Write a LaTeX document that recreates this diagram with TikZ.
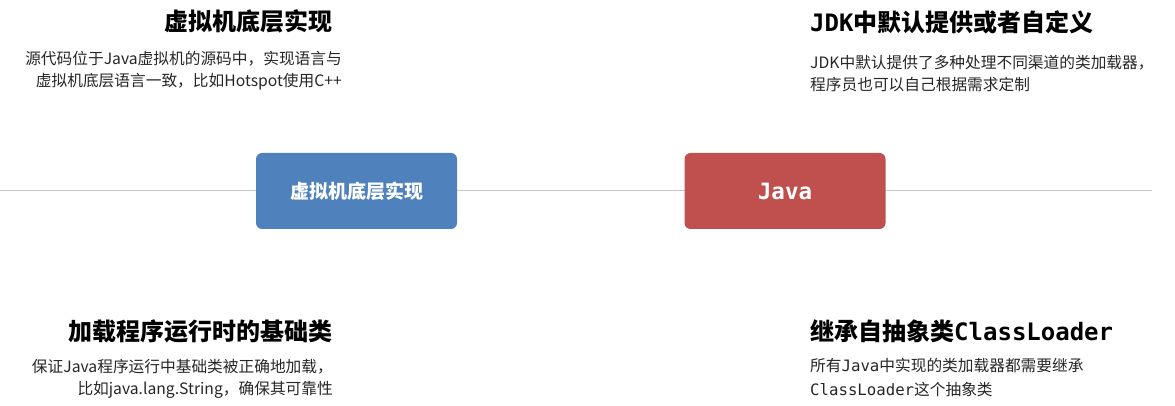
\documentclass[tikz,border=0pt]{standalone}
\usepackage{fontspec}
\setmainfont{Noto Sans CJK SC}
\setmonofont{DejaVu Sans Mono}
\usetikzlibrary{positioning}
\definecolor{boxblue}{HTML}{4F81BD}
\definecolor{boxred}{HTML}{C0504D}
\definecolor{axisgray}{HTML}{C8C8C8}
\definecolor{notetext}{HTML}{262626}

\begin{document}
\begin{tikzpicture}[
    x=1pt, y=-1pt,
    stagebox/.style={
        draw=none,
        rounded corners=6pt,
        minimum width=201pt,
        minimum height=76pt,
        inner sep=0pt,
        text=white,
        font=\bfseries\fontsize{19}{22}\selectfont
    },
    headline/.style={inner sep=0pt, font=\bfseries\fontsize{24}{28}\selectfont},
    remark/.style={inner sep=0pt, text=notetext, font=\fontsize{15.7}{22}\selectfont}
]
\useasboundingbox (0,0) rectangle (1175,406);

% timeline behind the two boxes
\coordinate (lineL) at (0,191);
\coordinate (lineR) at (1152,191);
\draw[axisgray, line width=1pt] (lineL) -- (lineR);

% the two stages
\node[stagebox, fill=boxblue] (vmbox) at (356.5,191) {虚拟机底层实现};
\node[stagebox, fill=boxred, font=\ttfamily\bfseries\fontsize{22.5}{24}\selectfont] (javabox) at (785,191) {Java};

% left column: right aligned
\node[headline, anchor=base east] (vmtitle) at (333,31) {虚拟机底层实现};
\node[remark, anchor=north east, align=right] (vmnote) at (342,51)
    {源代码位于Java虚拟机的源码中，实现语言与\\虚拟机底层语言一致，比如Hotspot使用C++};

\node[headline, anchor=base east] (basetitle) at (333,340) {加载程序运行时的基础类};
\node[remark, anchor=north east, align=right] (basenote) at (333,359)
    {保证Java程序运行中基础类被正确地加载，\\比如java.lang.String，确保其可靠性};

% right column: left aligned
\node[headline, anchor=base west] (jdktitle) at (810,32) {\texttt{JDK}中默认提供或者自定义};
\node[remark, anchor=north west, align=left] (jdknote) at (810,55)
    {JDK中默认提供了多种处理不同渠道的类加载器，\\程序员也可以自己根据需求定制};

\node[headline, anchor=base west] (cltitle) at (810,340) {继承自抽象类\texttt{ClassLoader}};
\node[remark, anchor=north west, align=left, font=\fontsize{15.7}{24}\selectfont] (clnote) at (810,358)
    {所有\texttt{Java}中实现的类加载器都需要继承\\\texttt{ClassLoader}这个抽象类};

\end{tikzpicture}
\end{document}
